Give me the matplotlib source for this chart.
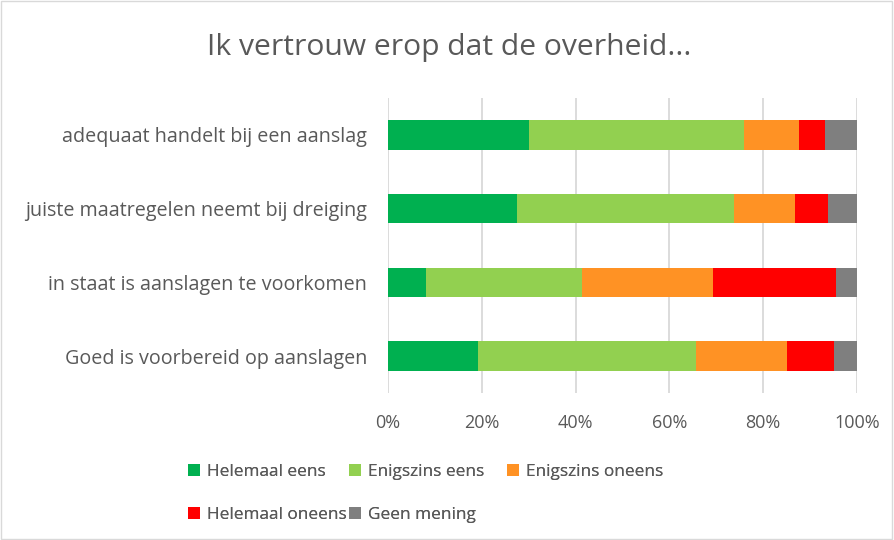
import matplotlib
matplotlib.use("Agg")
import matplotlib.pyplot as plt
from matplotlib.patches import Rectangle
import numpy as np

categories = ["adequaat handelt bij een aanslag",
              "juiste maatregelen neemt bij dreiging",
              "in staat is aanslagen te voorkomen",
              "Goed is voorbereid op aanslagen"]
series_names = ["Helemaal eens", "Enigszins eens", "Enigszins oneens",
                "Helemaal oneens", "Geen mening"]
helemaal_eens = [30.1, 27.6, 8.0, 19.1]
enigszins_eens = [45.8, 46.2, 33.3, 46.6]
enigszins_oneens = [11.8, 12.9, 28.1, 19.3]
helemaal_oneens = [5.5, 7.2, 26.1, 10.1]
geen_mening = [6.8, 6.1, 4.5, 4.9]
colors = ["#00B050", "#92D050", "#FF9224", "#FF0000", "#7F7F7F"]

plt.rcParams['font.family'] = ['Open Sans', 'DejaVu Sans']
text_color = "#595959"

W, H = 894, 540
fig = plt.figure(figsize=(W / 100, H / 100), dpi=100)
ax = fig.add_axes([388 / W, 1 - 393 / H, 469 / W, 295 / H])

data = [helemaal_eens, enigszins_eens, enigszins_oneens, helemaal_oneens, geen_mening]
y = np.arange(len(categories))[::-1]
left = np.zeros(len(categories))
handles = []
for vals, name, c in zip(data, series_names, colors):
    vals = np.array(vals)
    b = ax.barh(y, vals, left=left, height=0.4, color=c, label=name, zorder=3)
    handles.append(b)
    left += vals

ax.set_xlim(0, 100)
ax.set_ylim(-0.5, 3.5)
ax.set_xticks(np.arange(0, 101, 20))
ax.set_xticklabels([f"{v}%" for v in range(0, 101, 20)])
ax.set_yticks(y)
ax.set_yticklabels(categories)
ax.tick_params(axis='both', length=0, colors=text_color)
ax.tick_params(axis='y', pad=15, labelsize=14.2)
ax.tick_params(axis='x', pad=15, labelsize=13)
ax.grid(axis='x', color="#D9D9D9", linewidth=1.3, zorder=0)
for s in ax.spines.values():
    s.set_visible(False)

fig.text(449 / W, 1 - 48 / H, "Ik vertrouw erop dat de overheid...", ha='center', va='center',
         fontsize=21.6, color=text_color)

leg_pos = [(188, 472), (349, 472), (507, 472), (188, 515), (349, 515)]
fs = 12.4
for h, name, (px, py) in zip(handles, series_names, leg_pos):
    leg = fig.legend(handles=[h], labels=[name], loc='center left',
                     bbox_to_anchor=(px / W, 1 - py / H), frameon=False,
                     fontsize=fs, handlelength=0.7, handleheight=0.7,
                     handletextpad=0.4, borderpad=0, borderaxespad=0)
    for t in leg.get_texts():
        t.set_color(text_color)
    fig.add_artist(leg)

fig.patches.append(Rectangle((0.001, 0.001), 0.997, 0.997, transform=fig.transFigure,
                             fill=False, edgecolor="#D9D9D9", linewidth=1))

fig.savefig("out.png", dpi=100)
